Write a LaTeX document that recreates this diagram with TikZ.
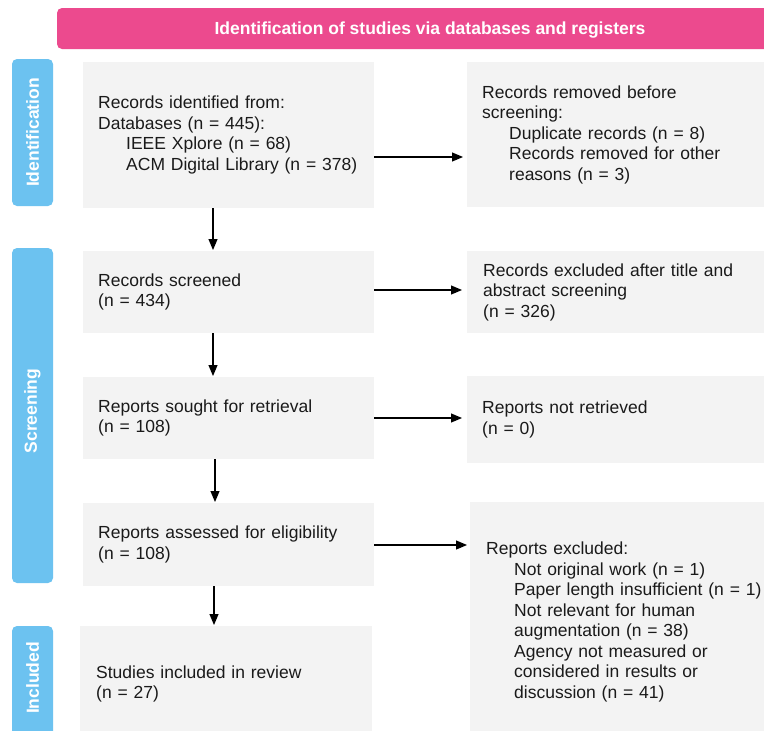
\documentclass[tikz,border=0pt]{standalone}
\usepackage{fontspec}
\setmainfont{Liberation Sans}
\usetikzlibrary{arrows.meta,calc}
\definecolor{boxgray}{HTML}{F3F3F3}
\definecolor{pinkbar}{HTML}{EC4A8E}
\definecolor{bluebar}{HTML}{6CC2F0}
\definecolor{txt}{HTML}{1A1A1A}
\newcommand{\xdepth}[1]{\rule[-#1pt]{0pt}{#1pt}}
\begin{document}
\begin{tikzpicture}[x=1pt,y=-1pt,
  font=\fontsize{17.5}{20.5}\selectfont,
  box/.style={fill=boxgray,anchor=north west,align=left,text=txt,inner ysep=0pt},
  sidelabel/.style={rotate=90,text=white,font=\fontsize{17.5}{20.5}\selectfont\bfseries},
  arr/.style={draw=black,line width=1.2pt,-{Triangle[length=11pt,width=9pt]}}]
\useasboundingbox (0,0) rectangle (764,731);
\fill[white] (0,0) rectangle (764,731);
% banner
\fill[pinkbar,rounded corners=5pt] (57,8) rectangle (810,49);
\node[text=white,font=\fontsize{17.5}{20.5}\selectfont\bfseries] (banner) at (430,30) {Identification of studies via databases and registers};
% side bars
\fill[bluebar,rounded corners=5pt] (12,59) rectangle (53,206);
\node[sidelabel] (sid) at (32.5,132.5) {Identification};
\fill[bluebar,rounded corners=5pt] (12,248) rectangle (53,583);
\node[sidelabel] (sscr) at (32.5,411) {Screening};
\fill[bluebar,rounded corners=5pt] (12,626) rectangle (53,745);
\node[sidelabel] (sinc) at (32.5,678) {Included};
% left boxes
\node[box,minimum width=291pt,minimum height=146pt,text width=261pt,inner xsep=15pt] (b1) at (83,62)
 {Records identified from:\\Databases (n = 445):\\\hspace*{28pt}IEEE Xplore (n = 68)\\\hspace*{28pt}ACM Digital Library (n = 378)};
\node[box,minimum width=291pt,minimum height=82pt,text width=261pt,inner xsep=15pt] (b2) at (83,251)
 {Records screened\\(n = 434)};
\node[box,minimum width=291pt,minimum height=82pt,text width=261pt,inner xsep=15pt] (b3) at (83,377)
 {Reports sought for retrieval\\(n = 108)};
\node[box,minimum width=291pt,minimum height=83pt,text width=261pt,inner xsep=15pt] (b4) at (83,503)
 {Reports assessed for eligibility\\(n = 108)};
\node[box,minimum width=292pt,minimum height=120pt,text width=260pt,inner xsep=16pt] (b5) at (80,626)
 {Studies included in review\\(n = 27)\xdepth{8}};
% right boxes
\node[box,minimum width=320pt,minimum height=145pt,text width=290pt,inner xsep=15pt] (r1) at (467,62)
 {Records removed before\\screening:\\\hspace*{27pt}Duplicate records (n = 8)\\\hspace*{27pt}Records removed for other\\\hspace*{27pt}reasons (n = 3)};
\node[box,minimum width=320pt,minimum height=82pt,text width=290pt,inner xsep=16pt] (r2) at (467,251)
 {Records excluded after title and\\abstract screening\\(n = 326)};
\node[box,minimum width=320pt,minimum height=87pt,text width=290pt,inner xsep=15pt] (r3) at (467,376)
 {Reports not retrieved\\(n = 0)};
\node[box,minimum width=320pt,minimum height=240pt,text width=288pt,inner xsep=16pt] (r4) at (470,502)
 {Reports excluded:\\\hspace*{28pt}Not original work (n = 1)\\\hspace*{28pt}Paper length insufficient (n = 1)\\\hspace*{28pt}Not relevant for human\\\hspace*{28pt}augmentation (n = 38)\\\hspace*{28pt}Agency not measured or\\\hspace*{28pt}considered in results or\\\hspace*{28pt}discussion (n = 41)};
% arrows
\coordinate (y1) at (0,157);
\coordinate (y2) at (0,290);
\coordinate (y3) at (0,418);
\coordinate (y4) at (0,545);
\coordinate (vx) at (213,0);
\draw[arr,shorten >=4pt] (b1.east |- y1) -- (r1.west |- y1);
\draw[arr,shorten >=5pt] (b2.east |- y2) -- (r2.west |- y2);
\draw[arr,shorten >=5pt] (b3.east |- y3) -- (r3.west |- y3);
\draw[arr,shorten >=3pt] (b4.east |- y4) -- (r4.west |- y4);
\draw[arr,shorten >=1pt] (b1.south -| vx) -- (b2.north -| vx);
\draw[arr,shorten >=1pt] (b2.south -| vx) -- (b3.north -| vx);
\draw[arr,shorten >=1pt] ([xshift=2pt]b3.south -| vx) -- ([xshift=2pt]b4.north -| vx);
\draw[arr,shorten >=1pt] ([xshift=1pt]b4.south -| vx) -- ([xshift=1pt]b5.north -| vx);
\end{tikzpicture}
\end{document}
